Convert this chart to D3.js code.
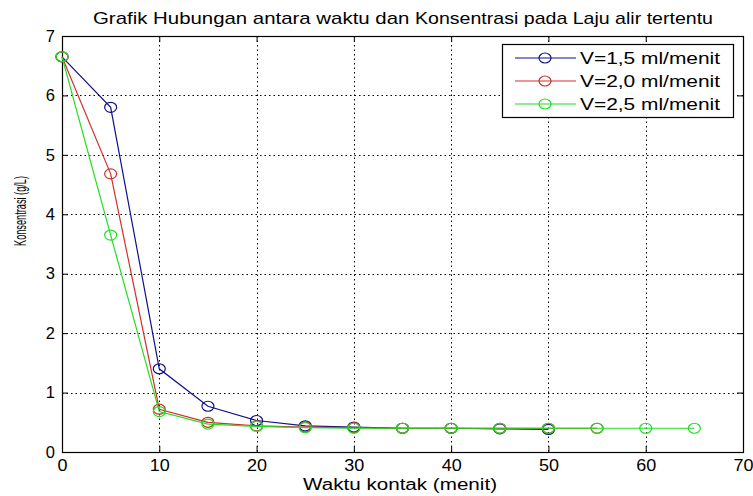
<!DOCTYPE html>
<html><head><meta charset="utf-8">
<script src="https://cdn.jsdelivr.net/npm/d3@7"></script>
<style>body{margin:0;background:#fff}svg{display:block}text{font-family:"Liberation Sans",Arial,sans-serif}</style>
</head><body>
<svg id="c" width="753" height="496"></svg>
<script>
const xTicks = [0,10,20,30,40,50,60,70];
const yTicks = [0,1,2,3,4,5,6,7];
const seriesNames = ["V=1,5 ml/menit","V=2,0 ml/menit","V=2,5 ml/menit"];
const seriesColors = ["#10108a","#d0302a","#22dd22"];
const timeBlue = [0,5,10,15,20,25,30,35,40,45,50];
const concBlue = [6.65,5.8,1.4,0.77,0.53,0.44,0.42,0.40,0.40,0.39,0.38];
const timeRed = [0,5,10,15,20,25,30,35,40,45,50,55];
const concRed = [6.65,4.68,0.72,0.50,0.44,0.42,0.41,0.40,0.40,0.40,0.40,0.40];
const timeGreen = [0,5,10,15,20,25,30,35,40,45,50,55,60,65];
const concGreen = [6.65,3.65,0.68,0.47,0.43,0.41,0.40,0.40,0.40,0.40,0.40,0.40,0.40,0.40];
const titleParts = ["Grafik Hubungan antara waktu dan ","Konsentrasi pada Laju alir tertentu"];
const xLabel = "Waktu kontak (menit)";
const yLabel = "Konsentrasi (g/L)";

const svg = d3.select("#c");
const L=62,R=743,T=36,B=452;
const x = d3.scaleLinear().domain([0,70]).range([L,R]);
const y = d3.scaleLinear().domain([0,7]).range([B,T]);

function fit(sel,len){ sel.attr("textLength",len).attr("lengthAdjust","spacingAndGlyphs"); return sel; }

// grid
const g = svg.append("g");
g.selectAll(".gx").data(xTicks.slice(1,-1)).enter().append("line")
 .attr("x1",d=>Math.round(x(d))+0.5).attr("x2",d=>Math.round(x(d))+0.5).attr("y1",T).attr("y2",B)
 .attr("stroke","#000").attr("stroke-width",1).attr("stroke-dasharray","1.5,3");
g.selectAll(".gy").data(yTicks.slice(1,-1)).enter().append("line")
 .attr("y1",d=>Math.round(y(d))+0.5).attr("y2",d=>Math.round(y(d))+0.5).attr("x1",L).attr("x2",R)
 .attr("stroke","#000").attr("stroke-width",1).attr("stroke-dasharray","1.5,3");

// axes with inward ticks
const xAxisB = d3.axisBottom(x).tickValues(xTicks).tickFormat(d3.format("d")).tickSizeInner(-6).tickSizeOuter(0).tickPadding(7);
const yAxisL = d3.axisLeft(y).tickValues(yTicks).tickFormat(d3.format("d")).tickSizeInner(-6).tickSizeOuter(0).tickPadding(7);
const ax = svg.append("g").attr("transform",`translate(0,${B})`).call(xAxisB);
const ay = svg.append("g").attr("transform",`translate(${L},0)`).call(yAxisL);
const axT = svg.append("g").attr("transform",`translate(0,${T})`).call(d3.axisTop(x).tickValues(xTicks).tickSizeInner(-6).tickSizeOuter(0).tickFormat(""));
const ayR = svg.append("g").attr("transform",`translate(${R},0)`).call(d3.axisRight(y).tickValues(yTicks).tickSizeInner(-6).tickSizeOuter(0).tickFormat(""));
[ax,ay,axT,ayR].forEach(a=>{a.select(".domain").remove();a.selectAll("line").attr("stroke","#000");});
svg.selectAll(".tick text").attr("font-size",16.5).attr("fill","#000").attr("font-family","Liberation Sans, Arial, sans-serif");
ax.selectAll(".tick text").each(function(d){ fit(d3.select(this), String(d).length*10); });
svg.append("rect").attr("x",L+0.5).attr("y",T+0.5).attr("width",R-L).attr("height",B-T)
 .attr("fill","none").attr("stroke","#000").attr("stroke-width",1.2);

// series
const series = [
 {t:timeBlue,c:concBlue},{t:timeRed,c:concRed},{t:timeGreen,c:concGreen}];
const line = d3.line().x(d=>x(d[0])).y(d=>y(d[1]));
series.forEach((s,i)=>{
  const pts = s.t.map((t,j)=>[t,s.c[j]]);
  svg.append("path").datum(pts).attr("d",line).attr("fill","none").attr("stroke",seriesColors[i]).attr("stroke-width",1.2);
  svg.append("g").selectAll("ellipse").data(pts).enter().append("ellipse")
   .attr("cx",d=>x(d[0])).attr("cy",d=>y(d[1])).attr("rx",6).attr("ry",5)
   .attr("fill","none").attr("stroke",seriesColors[i]).attr("stroke-width",1.2);
});

// legend
const lg = svg.append("g");
lg.append("rect").attr("x",502.5).attr("y",44.5).attr("width",231).attr("height",73)
 .attr("fill","#fff").attr("stroke","#000").attr("stroke-width",1.2);
seriesNames.forEach((n,i)=>{
  const yy = 58 + i*23;
  lg.append("line").attr("x1",515).attr("x2",576).attr("y1",yy).attr("y2",yy).attr("stroke",seriesColors[i]).attr("stroke-width",1.2);
  lg.append("ellipse").attr("cx",545).attr("cy",yy).attr("rx",6).attr("ry",5).attr("fill","none").attr("stroke",seriesColors[i]).attr("stroke-width",1.2);
  fit(lg.append("text").attr("x",580).attr("y",yy+6).attr("font-size",16).text(n),140);
});

// titles
const tt = svg.append("text").attr("y",24).attr("font-size",17);
fit(tt.append("tspan").attr("x",93).text(titleParts[0]),322);
fit(tt.append("tspan").attr("x",415).text(titleParts[1]),298);
fit(svg.append("text").attr("x",303).attr("y",490).attr("font-size",16).text(xLabel),194);
fit(svg.append("text").attr("transform","translate(26,246) rotate(-90)").attr("font-size",17).text(yLabel),70);
</script>
</body></html>
